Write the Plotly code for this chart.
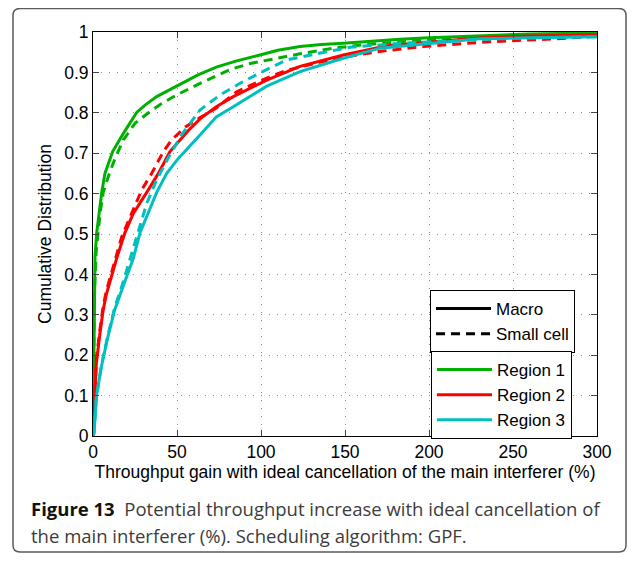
import plotly.graph_objects as go

# ---------------- data ----------------
r1_macro_x = [0, 0.3, 0.6, 1.2, 2.2, 3.6, 5.2, 7.1, 11.7, 18.1, 26, 31, 37.9, 49.8, 62.5, 73.4, 85, 99.4, 110, 123.2, 136, 149, 165, 182.7, 200, 230, 260, 300]
r1_macro_y = [0, 0.15, 0.35, 0.444, 0.503, 0.551, 0.603, 0.650, 0.704, 0.749, 0.801, 0.819, 0.840, 0.866, 0.894, 0.913, 0.928, 0.943, 0.955, 0.964, 0.969, 0.972, 0.977, 0.982, 0.986, 0.991, 0.995, 0.998]

r1_small_x = [0, 0.3, 0.8, 1.8, 4.2, 6.1, 9.1, 13.1, 18.1, 25, 33.9, 40.9, 49.8, 63.7, 73.4, 81.5, 93.5, 103.4, 117.3, 123.2, 143, 160, 182.7, 210, 240, 270, 300]
r1_small_y = [0, 0.15, 0.35, 0.452, 0.551, 0.603, 0.642, 0.687, 0.733, 0.774, 0.803, 0.823, 0.844, 0.873, 0.891, 0.907, 0.922, 0.930, 0.943, 0.946, 0.960, 0.968, 0.976, 0.983, 0.988, 0.992, 0.995]

r2_macro_x = [0, 0.5, 1.0, 2.0, 4.0, 6.0, 7.9, 11.9, 14.1, 19.0, 24.0, 32, 38.9, 45.8, 51.8, 56.5, 63.7, 73.4, 83.5, 103.4, 123.2, 149, 175, 200, 230, 260, 300]
r2_macro_y = [0, 0.04, 0.11, 0.18, 0.25, 0.31, 0.35, 0.41, 0.44, 0.503, 0.551, 0.603, 0.650, 0.704, 0.733, 0.755, 0.785, 0.815, 0.840, 0.881, 0.915, 0.943, 0.966, 0.975, 0.985, 0.990, 0.993]

r2_small_x = [0, 0.5, 1.0, 2.0, 4.0, 6.0, 8.0, 11.9, 17.1, 23, 29, 34.9, 41.9, 46.8, 55, 64.5, 73.4, 85.5, 100, 115, 130, 141, 155, 172.8, 196.6, 236, 276, 300]
r2_small_y = [0, 0.04, 0.11, 0.19, 0.26, 0.32, 0.36, 0.42, 0.493, 0.551, 0.609, 0.650, 0.704, 0.733, 0.765, 0.790, 0.812, 0.852, 0.88, 0.905, 0.92, 0.931, 0.942, 0.953, 0.964, 0.976, 0.983, 0.99]

r3_macro_x = [0, 0.6, 2.0, 5.0, 8.9, 12.9, 17.9, 24, 28, 32.9, 37.9, 43.9, 50.8, 63.7, 73.4, 83.5, 103.4, 123.2, 149, 170.8, 200, 230, 260, 300]
r3_macro_y = [0, 0.007, 0.097, 0.172, 0.246, 0.312, 0.37, 0.44, 0.503, 0.551, 0.603, 0.650, 0.687, 0.745, 0.790, 0.815, 0.866, 0.902, 0.935, 0.960, 0.972, 0.983, 0.986, 0.988]

r3_small_x = [0, 0.6, 2.0, 5.0, 8.9, 12.9, 17.5, 25, 29, 32, 37.9, 45, 52.6, 63.7, 75.6, 87.5, 100, 115.3, 139, 153, 182.7, 210, 240, 270, 300]
r3_small_y = [0, 0.007, 0.097, 0.175, 0.25, 0.318, 0.375, 0.477, 0.535, 0.576, 0.634, 0.69, 0.745, 0.807, 0.844, 0.873, 0.90, 0.931, 0.951, 0.962, 0.972, 0.978, 0.983, 0.986, 0.988]

x_ticks = [0, 50, 100, 150, 200, 250, 300]
y_ticks = [0, 0.1, 0.2, 0.3, 0.4, 0.5, 0.6, 0.7, 0.8, 0.9, 1]
y_tick_labels = ["0", "0.1", "0.2", "0.3", "0.4", "0.5", "0.6", "0.7", "0.8", "0.9", "1"]

cell_types = ["Macro", "Small cell"]
regions = ["Region 1", "Region 2", "Region 3"]

# ---------------- styles ----------------
GREEN = "#00b000"
RED = "#ff0000"
CYAN = "#00bfbf"
DASH = "9px,6px"
LW = 3
AXFONT = "Liberation Sans, Arial, sans-serif"
FS = 17.5

fig = go.Figure()

series = [
    (r1_macro_x, r1_macro_y, GREEN, "solid"),
    (r1_small_x, r1_small_y, GREEN, DASH),
    (r2_macro_x, r2_macro_y, RED, "solid"),
    (r2_small_x, r2_small_y, RED, DASH),
    (r3_macro_x, r3_macro_y, CYAN, "solid"),
    (r3_small_x, r3_small_y, CYAN, DASH),
]
for xs, ys, col, dash in series:
    fig.add_trace(go.Scatter(x=xs, y=ys, mode="lines", showlegend=False,
                             line=dict(color=col, width=LW, dash=dash),
                             hoverinfo="skip"))

# legend entries: line style
for name, dash in zip(cell_types, ["solid", DASH]):
    fig.add_trace(go.Scatter(x=[None], y=[None], mode="lines", name=name,
                             line=dict(color="black", width=LW, dash=dash),
                             legend="legend"))
# legend entries: regions
for name, col in zip(regions, [GREEN, RED, CYAN]):
    fig.add_trace(go.Scatter(x=[None], y=[None], mode="lines", name=name,
                             line=dict(color=col, width=LW),
                             legend="legend2"))

# the page adds an 8px body margin on every side; keep the figure inside the window
OFF = 8
W, H = 635 - 2 * OFF, 561 - 2 * OFF
L, T = 93 - OFF, 32 - OFF
R = W - (597 - OFF)
B = H - (436 - OFF)
pw, ph = W - L - R, H - T - B

def px(xs):
    """screen x (in the final picture) -> paper x"""
    return (xs - OFF - L) / pw

def py(ys):
    """screen y (in the final picture) -> paper y"""
    return (H - B - (ys - OFF)) / ph

# rounded outer frame (clamped to the figure)
x0, x1 = px(13), px(OFF + W - 1)
y0, y1 = py(OFF + H - 1), py(8.5)
rx, ry = 7 / pw, 7 / ph
path = (f"M {x0+rx},{y1} L {x1-rx},{y1} Q {x1},{y1} {x1},{y1-ry} "
        f"L {x1},{y0+ry} Q {x1},{y0} {x1-rx},{y0} L {x0+rx},{y0} "
        f"Q {x0},{y0} {x0},{y0+ry} L {x0},{y1-ry} Q {x0},{y1} {x0+rx},{y1} Z")

legend_common = dict(font=dict(family=AXFONT, size=17, color="black"),
                     bgcolor="white", bordercolor="black", borderwidth=1,
                     xanchor="left", yanchor="top", tracegroupgap=0,
                     itemwidth=55)

fig.update_layout(
    width=W, height=H,
    margin=dict(l=L, r=R, t=T, b=B),
    paper_bgcolor="white", plot_bgcolor="white",
    font=dict(family=AXFONT, size=FS, color="black"),
    shapes=[dict(type="path", xref="paper", yref="paper", path=path,
                 line=dict(color="#5a5a5a", width=1.5), layer="below")],
    xaxis=dict(range=[0, 300], tickvals=x_ticks, ticks="inside", ticklen=6,
               showline=True, linecolor="black", linewidth=1, mirror="ticks",
               showgrid=True, gridcolor="#8c8c8c", griddash="1px,7px", gridwidth=1,
               zeroline=False, tickfont=dict(size=FS),
               title=dict(text="Throughput gain with ideal cancellation of the main interferer (%)",
                          font=dict(size=FS), standoff=4)),
    yaxis=dict(range=[0, 1], tickvals=y_ticks, ticktext=y_tick_labels, ticks="inside", ticklen=6,
               showline=True, linecolor="black", linewidth=1, mirror="ticks",
               showgrid=True, gridcolor="#8c8c8c", griddash="1px,7px", gridwidth=1,
               zeroline=False, tickfont=dict(size=FS),
               title=dict(text="Cumulative Distribution", font=dict(size=FS), standoff=8)),
    legend=dict(x=px(430), y=py(290), **legend_common),
    legend2=dict(x=px(431), y=py(351), **legend_common),
    annotations=[
        dict(xref="paper", yref="paper", x=px(29), y=py(508), xanchor="left", yanchor="middle",
             showarrow=False, align="left",
             text="<b>Figure 13</b>\u00a0\u00a0<span style='color:#3c3c3c'>Potential throughput increase with ideal cancellation of</span>",
             font=dict(family="Open Sans, sans-serif", size=18.5, color="#111111")),
        dict(xref="paper", yref="paper", x=px(29), y=py(535), xanchor="left", yanchor="middle",
             showarrow=False, align="left",
             text="the main interferer (%). Scheduling algorithm: GPF.",
             font=dict(family="Open Sans, sans-serif", size=18.5, color="#3c3c3c")),
    ],
)

fig.write_html("out.html")
